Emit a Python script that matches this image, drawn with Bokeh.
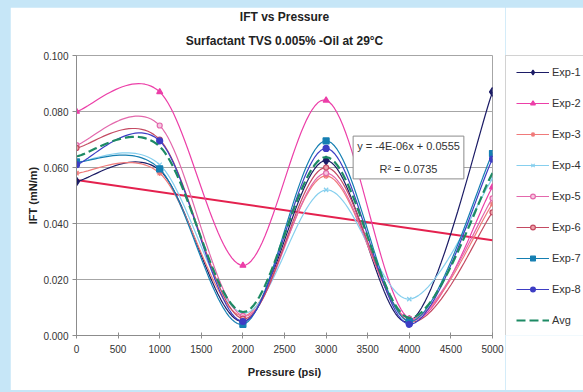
import numpy as np
from bokeh.plotting import figure
from bokeh.layouts import row
from bokeh.models import (Legend, LegendItem, Label, Title, FixedTicker,
                          NumeralTickFormatter)
from bokeh.embed import file_html
from bokeh.resources import INLINE

# ---- data -------------------------------------------------------------
pressure = [0, 1000, 2000, 3000, 4000, 5000]          # psi
exp1 = [0.055, 0.059, 0.005, 0.0625, 0.005, 0.087]
exp2 = [0.080, 0.087, 0.025, 0.084, 0.006, 0.053]
exp3 = [0.058, 0.058, 0.007, 0.057, 0.006, 0.047]
exp4 = [0.062, 0.061, 0.008, 0.052, 0.013, 0.056]
exp5 = [0.068, 0.075, 0.007, 0.058, 0.006, 0.049]
exp6 = [0.067, 0.070, 0.006, 0.060, 0.005, 0.044]
exp7 = [0.062, 0.0595, 0.004, 0.0695, 0.005, 0.065]
exp8 = [0.061, 0.0695, 0.005, 0.0668, 0.004, 0.063]
avg = [0.064, 0.0675, 0.0084, 0.0637, 0.0063, 0.058]

series_names = ["Exp-1", "Exp-2", "Exp-3", "Exp-4", "Exp-5", "Exp-6", "Exp-7", "Exp-8"]
series_values = [exp1, exp2, exp3, exp4, exp5, exp6, exp7, exp8]

# linear trendline coefficients
trend_slope = -4.3e-6
trend_intercept = 0.0555
trend_r2 = 0.0735

x_ticks = [0, 500, 1000, 1500, 2000, 2500, 3000, 3500, 4000, 4500, 5000]
y_ticks = [0.0, 0.02, 0.04, 0.06, 0.08, 0.10]

# ---- styles -------------------------------------------------------------
FONT = "Liberation Sans"
BG = "#c6e6f7"
GRID = "#a6a6a6"
TXT = "#333333"
styles = [
    dict(color="#1c1c66", marker="diamond", size=9, fill="#1c1c66"),
    dict(color="#ec3fa8", marker="triangle", size=6, fill="#ec3fa8"),
    dict(color="#f07a7a", marker="asterisk", size=6, fill="#f07a7a"),
    dict(color="#86cfee", marker="x", size=6, fill="#86cfee"),
    dict(color="#e368ac", marker="circle", size=5, fill="#f6c8e0"),
    dict(color="#c44a62", marker="circle", size=5, fill="#eea0a8"),
    dict(color="#157fb2", marker="square", size=6, fill="#157fb2"),
    dict(color="#3d3dc4", marker="circle", size=6, fill="#3d3dc4"),
]
AVG_STYLE = dict(color="#1d8a64", width=2.2, dash="9 4")


def smooth(xs, ys, n=30):
    """Piecewise cubic Bezier through the points (Catmull-Rom control points)."""
    px = np.array([xs[0]] + list(xs) + [xs[-1]], dtype=float)
    py = np.array([ys[0]] + list(ys) + [ys[-1]], dtype=float)
    ox, oy = [], []
    segs = len(xs) - 1
    for i in range(1, segs + 1):
        t = np.linspace(0, 1, n, endpoint=(i == segs))
        for arr, out in ((px, ox), (py, oy)):
            p0, p1, p2, p3 = arr[i - 1], arr[i], arr[i + 1], arr[i + 2]
            c1 = p1 + (p2 - p0) / 6.0
            c2 = p2 - (p3 - p1) / 6.0
            b = ((1 - t) ** 3 * p1 + 3 * (1 - t) ** 2 * t * c1
                 + 3 * (1 - t) * t ** 2 * c2 + t ** 3 * p2)
            out.extend(b.tolist())
    return ox, oy


# ---- main chart -------------------------------------------------------------
p = figure(width=495, height=383, x_range=(0, 5000), y_range=(0, 0.1),
           output_backend="svg", toolbar_location=None,
           min_border_left=66, min_border_right=13,
           min_border_top=48, min_border_bottom=55,
           margin=(7, 0, 2, 10))
p.background_fill_color = "white"
p.border_fill_color = "white"
p.outline_line_color = GRID
p.outline_line_width = 1

# titles: main title on top, subtitle next to the frame
p.title.text = "IFT vs Pressure"
p.title.align = "center"
p.title.text_font = FONT
p.title.text_font_size = "12px"
p.title.text_font_style = "bold"
p.title.text_color = "#222222"
p.title.standoff = 0
p.add_layout(Title(text="Surfactant TVS 0.005% -Oil at 29°C", align="center",
                   text_font=FONT, text_font_size="12px",
                   text_font_style="bold", text_color="#222222",
                   standoff=16), "above")

# axes
p.xaxis.ticker = FixedTicker(ticks=x_ticks)
p.yaxis.ticker = FixedTicker(ticks=y_ticks)
p.yaxis.formatter = NumeralTickFormatter(format="0.000")
for ax in (p.xaxis[0], p.yaxis[0]):
    ax.axis_line_color = "#8c8c8c"
    ax.major_tick_line_color = "#8c8c8c"
    ax.minor_tick_line_color = None
    ax.major_label_text_font = FONT
    ax.major_label_text_font_size = "10px"
    ax.major_label_text_color = TXT
    ax.axis_label_text_font = FONT
    ax.axis_label_text_font_size = "11px"
    ax.axis_label_text_font_style = "bold"
    ax.axis_label_text_color = "#222222"
p.yaxis.major_tick_out = 4
p.yaxis.major_tick_in = 0
p.yaxis.major_label_standoff = 4
p.xaxis.major_tick_out = 3
p.xaxis.major_tick_in = 3
p.xaxis.major_label_standoff = 6
p.xaxis.axis_label = "Pressure (psi)"
p.yaxis.axis_label = "IFT (mN/m)"
p.xaxis.axis_label_standoff = 10
p.yaxis.axis_label_standoff = 1
p.xgrid.grid_line_color = None
p.ygrid.grid_line_color = GRID

# linear trendline
tx = [pressure[0], pressure[-1]]
ty = [trend_intercept + trend_slope * v for v in tx]
p.line(tx, ty, line_color="#e4214e", line_width=2)

for vals, st in zip(series_values, styles):
    sx, sy = smooth(pressure, vals)
    p.line(sx, sy, line_color=st["color"], line_width=1.2)
    p.scatter(pressure, vals, marker=st["marker"], size=st["size"],
              line_color=st["color"], fill_color=st["fill"], line_width=1.2)

ax_, ay_ = smooth(pressure, avg)
p.line(ax_, ay_, line_color=AVG_STYLE["color"], line_width=AVG_STYLE["width"],
       line_dash=AVG_STYLE["dash"])

# trendline equation box
eq_text = f"y = {trend_slope:.0E}x + {trend_intercept:.4f}\nR² = {trend_r2:.4f}"
p.add_layout(Label(x=332, y=178, x_units="screen", y_units="screen",
                   text=eq_text, text_align="center", text_baseline="middle",
                   text_font=FONT, text_font_size="11px", text_color=TXT,
                   text_line_height=1.9,
                   border_line_color="#8c8c8c", background_fill_color="white",
                   padding=4))

# ---- legend panel: hidden copies of the series supply the key glyphs --------
lg = figure(width=78, height=383, output_backend="svg", toolbar_location=None,
            x_axis_type=None, y_axis_type=None,
            min_border=0, margin=(7, 0, 2, 0))
lg.background_fill_color = "white"
lg.border_fill_color = "white"
lg.outline_line_color = None
lg.xgrid.grid_line_color = None
lg.ygrid.grid_line_color = None

items = []
for name, vals, st in zip(series_names, series_values, styles):
    lr = lg.line(pressure, vals, line_color=st["color"], line_width=1.2,
                 visible=False)
    mr = lg.scatter(pressure, vals, marker=st["marker"], size=st["size"],
                    line_color=st["color"], fill_color=st["fill"],
                    line_width=1.2, visible=False)
    items.append(LegendItem(label=name, renderers=[lr, mr]))
ar = lg.line(pressure, avg, line_color=AVG_STYLE["color"],
             line_width=AVG_STYLE["width"], line_dash=AVG_STYLE["dash"],
             visible=False)
items.append(LegendItem(label="Avg", renderers=[ar]))

legend = Legend(items=items, location="top_left")
legend.border_line_color = GRID
legend.background_fill_color = "white"
legend.background_fill_alpha = 1
legend.inactive_fill_alpha = 0
legend.padding = 10
legend.margin = 0
legend.spacing = 19
legend.glyph_width = 33
legend.glyph_height = 12
legend.label_height = 12
legend.label_standoff = 3
legend.label_text_font = FONT
legend.label_text_font_size = "11px"
legend.label_text_color = TXT
lg.add_layout(legend, "center")

root = row(p, lg, styles={"background-color": BG})
open("out.html", "w").write(file_html(root, INLINE))
